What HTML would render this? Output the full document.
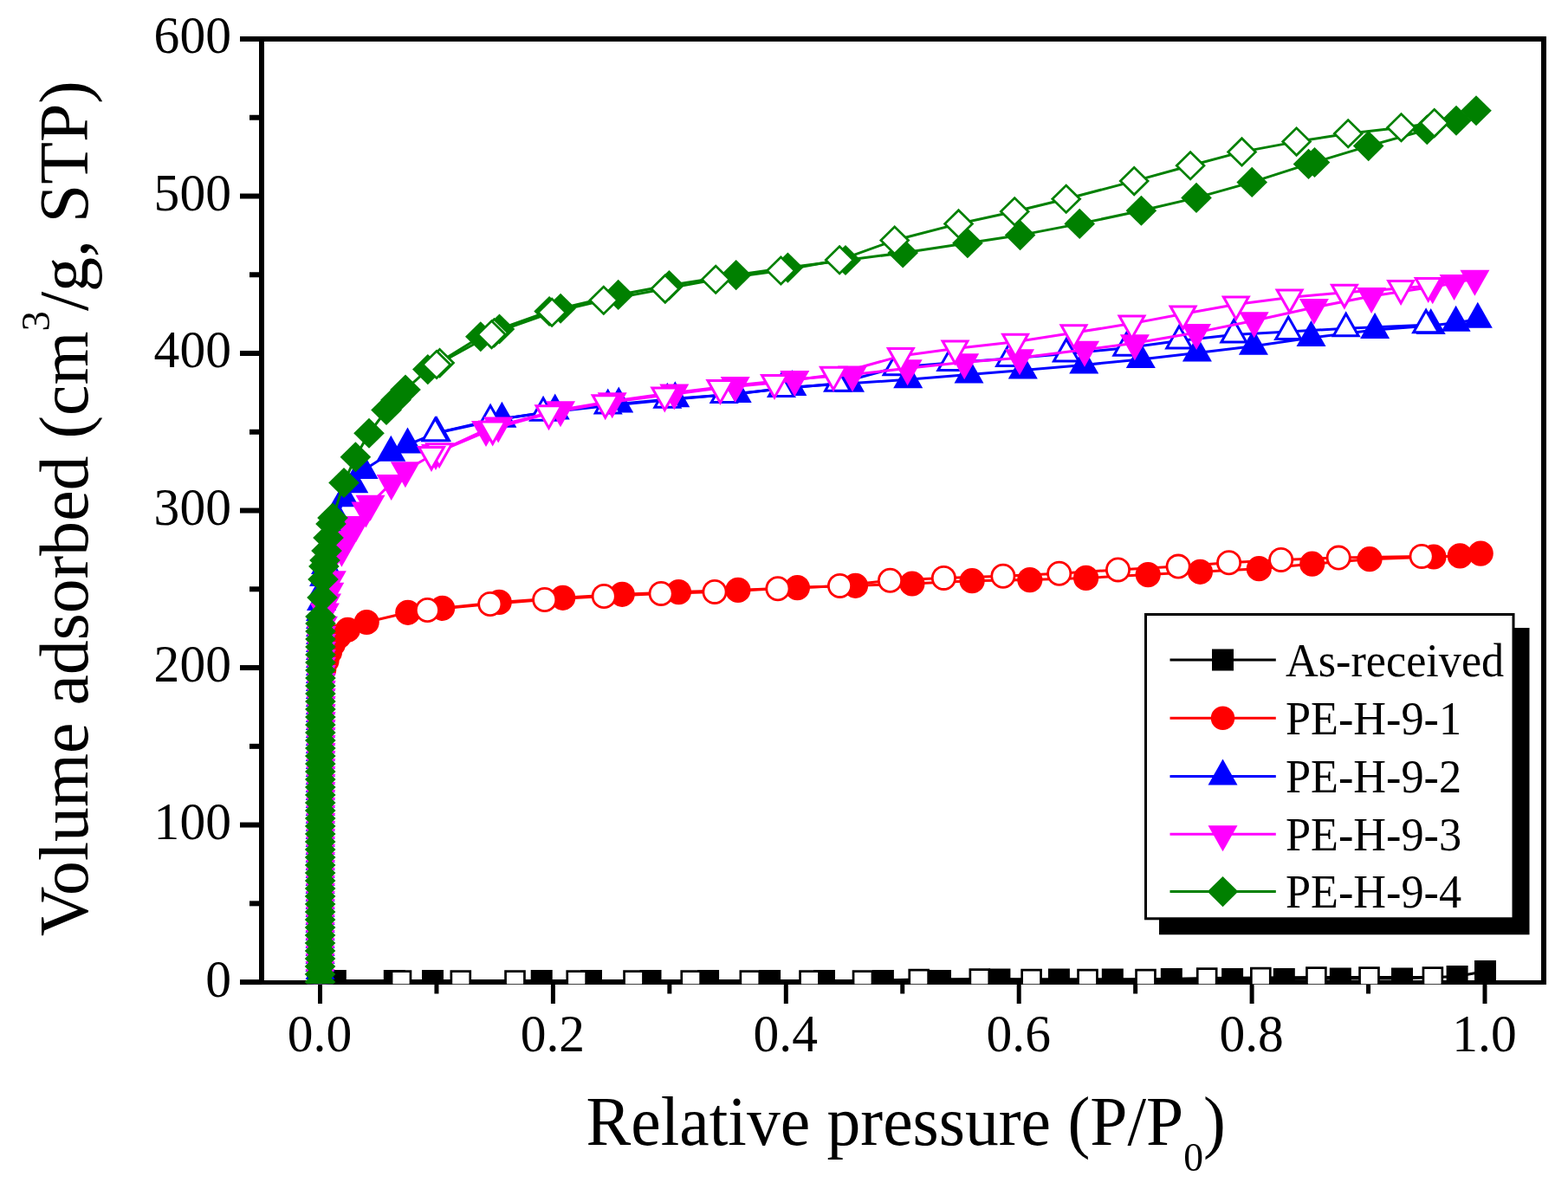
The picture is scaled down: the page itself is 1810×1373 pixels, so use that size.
<!DOCTYPE html>
<html><head><meta charset="utf-8"><title>Isotherm</title>
<style>html,body{margin:0;padding:0;background:#fff;width:1810px;height:1373px;overflow:hidden}svg{display:block}</style>
</head><body>
<svg width="1810" height="1373" viewBox="0 0 1810 1373" font-family="'Liberation Serif','Times New Roman',serif">
<rect width="1810" height="1373" fill="#fff"/>
<defs><clipPath id="pc"><rect x="305" y="48" width="1474" height="1088.2"/></clipPath></defs>
<g stroke="#000" stroke-width="5.6" stroke-linecap="butt">
<path d="M299 45H1785M1782 42V1137M302 42V1134.5" fill="none" stroke="#000" stroke-width="6"/>
<path d="M277 1134.5H1785" fill="none" stroke="#000" stroke-width="5.1"/>
<line x1="277" y1="1134.1" x2="302" y2="1134.1" stroke-width="6"/>
<line x1="288" y1="1043.34" x2="302" y2="1043.34" stroke-width="6"/>
<line x1="277" y1="952.58" x2="302" y2="952.58" stroke-width="6"/>
<line x1="288" y1="861.82" x2="302" y2="861.82" stroke-width="6"/>
<line x1="277" y1="771.06" x2="302" y2="771.06" stroke-width="6"/>
<line x1="288" y1="680.3" x2="302" y2="680.3" stroke-width="6"/>
<line x1="277" y1="589.54" x2="302" y2="589.54" stroke-width="6"/>
<line x1="288" y1="498.78" x2="302" y2="498.78" stroke-width="6"/>
<line x1="277" y1="408.02" x2="302" y2="408.02" stroke-width="6"/>
<line x1="288" y1="317.26" x2="302" y2="317.26" stroke-width="6"/>
<line x1="277" y1="226.5" x2="302" y2="226.5" stroke-width="6"/>
<line x1="288" y1="135.74" x2="302" y2="135.74" stroke-width="6"/>
<line x1="277" y1="44.98" x2="302" y2="44.98" stroke-width="6"/>
<line x1="369.5" y1="1134.5" x2="369.5" y2="1159" stroke-width="5"/>
<line x1="503.95" y1="1134.5" x2="503.95" y2="1147.5" stroke-width="5"/>
<line x1="638.4" y1="1134.5" x2="638.4" y2="1159" stroke-width="5"/>
<line x1="772.85" y1="1134.5" x2="772.85" y2="1147.5" stroke-width="5"/>
<line x1="907.3" y1="1134.5" x2="907.3" y2="1159" stroke-width="5"/>
<line x1="1041.75" y1="1134.5" x2="1041.75" y2="1147.5" stroke-width="5"/>
<line x1="1176.2" y1="1134.5" x2="1176.2" y2="1159" stroke-width="5"/>
<line x1="1310.65" y1="1134.5" x2="1310.65" y2="1147.5" stroke-width="5"/>
<line x1="1445.1" y1="1134.5" x2="1445.1" y2="1159" stroke-width="5"/>
<line x1="1579.55" y1="1134.5" x2="1579.55" y2="1147.5" stroke-width="5"/>
<line x1="1714" y1="1134.5" x2="1714" y2="1159" stroke-width="5"/>
</g>
<g clip-path="url(#pc)">
<polyline fill="none" stroke="#000000" stroke-width="3.0" stroke-linejoin="round" points="369.5,1133 387.3,1132.5 455.3,1132.5 499.5,1132.5 625.2,1132.5 682.5,1132.5 751,1132.5 817.6,1132.5 888.6,1132.5 951.5,1132.5 1019.4,1132.5 1085.5,1132.5 1153.9,1131 1222.4,1131 1284.3,1131 1352.3,1130.5 1422.6,1130.5 1482.3,1130.5 1547.3,1130 1618.5,1130 1682.1,1127.5 1714.5,1121.5"/>
<g fill="#000000"><path d="M357 1120.5L382 1120.5L382 1145.5L357 1145.5z"/><path d="M374.8 1120L399.8 1120L399.8 1145L374.8 1145z"/><path d="M442.8 1120L467.8 1120L467.8 1145L442.8 1145z"/><path d="M487 1120L512 1120L512 1145L487 1145z"/><path d="M612.7 1120L637.7 1120L637.7 1145L612.7 1145z"/><path d="M670 1120L695 1120L695 1145L670 1145z"/><path d="M738.5 1120L763.5 1120L763.5 1145L738.5 1145z"/><path d="M805.1 1120L830.1 1120L830.1 1145L805.1 1145z"/><path d="M876.1 1120L901.1 1120L901.1 1145L876.1 1145z"/><path d="M939 1120L964 1120L964 1145L939 1145z"/><path d="M1006.9 1120L1031.9 1120L1031.9 1145L1006.9 1145z"/><path d="M1073 1120L1098 1120L1098 1145L1073 1145z"/><path d="M1141.4 1118.5L1166.4 1118.5L1166.4 1143.5L1141.4 1143.5z"/><path d="M1209.9 1118.5L1234.9 1118.5L1234.9 1143.5L1209.9 1143.5z"/><path d="M1271.8 1118.5L1296.8 1118.5L1296.8 1143.5L1271.8 1143.5z"/><path d="M1339.8 1118L1364.8 1118L1364.8 1143L1339.8 1143z"/><path d="M1410.1 1118L1435.1 1118L1435.1 1143L1410.1 1143z"/><path d="M1469.8 1118L1494.8 1118L1494.8 1143L1469.8 1143z"/><path d="M1534.8 1117.5L1559.8 1117.5L1559.8 1142.5L1534.8 1142.5z"/><path d="M1606 1117.5L1631 1117.5L1631 1142.5L1606 1142.5z"/><path d="M1669.6 1115L1694.6 1115L1694.6 1140L1669.6 1140z"/><path d="M1702 1109L1727 1109L1727 1134L1702 1134z"/></g>
<polyline fill="none" stroke="#000000" stroke-width="3.0" stroke-linejoin="round" points="1653.9,1128.5 1580.5,1128.5 1519.4,1128.5 1455.3,1129 1393.2,1129.5 1322.5,1131 1255.5,1131 1190.6,1131 1130.8,1130.5 1060.7,1131 996,1132.5 934.5,1132.5 865.8,1132.5 797.7,1132.5 731.5,1132.5 665.7,1132.5 594.5,1132.5 531.8,1132.5 463,1132.5"/>
<g fill="#000000"><path fill="#000000" d="M1641.6 1116.2L1666.2 1116.2L1666.2 1140.8L1641.6 1140.8z"/><path fill="#fff" d="M1644.3 1118.9L1663.5 1118.9L1663.5 1138.1L1644.3 1138.1z"/><path fill="#000000" d="M1568.2 1116.2L1592.8 1116.2L1592.8 1140.8L1568.2 1140.8z"/><path fill="#fff" d="M1570.9 1118.9L1590.1 1118.9L1590.1 1138.1L1570.9 1138.1z"/><path fill="#000000" d="M1507.1 1116.2L1531.7 1116.2L1531.7 1140.8L1507.1 1140.8z"/><path fill="#fff" d="M1509.8 1118.9L1529 1118.9L1529 1138.1L1509.8 1138.1z"/><path fill="#000000" d="M1443 1116.7L1467.6 1116.7L1467.6 1141.3L1443 1141.3z"/><path fill="#fff" d="M1445.7 1119.4L1464.9 1119.4L1464.9 1138.6L1445.7 1138.6z"/><path fill="#000000" d="M1380.9 1117.2L1405.5 1117.2L1405.5 1141.8L1380.9 1141.8z"/><path fill="#fff" d="M1383.6 1119.9L1402.8 1119.9L1402.8 1139.1L1383.6 1139.1z"/><path fill="#000000" d="M1310.2 1118.7L1334.8 1118.7L1334.8 1143.3L1310.2 1143.3z"/><path fill="#fff" d="M1312.9 1121.4L1332.1 1121.4L1332.1 1140.6L1312.9 1140.6z"/><path fill="#000000" d="M1243.2 1118.7L1267.8 1118.7L1267.8 1143.3L1243.2 1143.3z"/><path fill="#fff" d="M1245.9 1121.4L1265.1 1121.4L1265.1 1140.6L1245.9 1140.6z"/><path fill="#000000" d="M1178.3 1118.7L1202.9 1118.7L1202.9 1143.3L1178.3 1143.3z"/><path fill="#fff" d="M1181 1121.4L1200.2 1121.4L1200.2 1140.6L1181 1140.6z"/><path fill="#000000" d="M1118.5 1118.2L1143.1 1118.2L1143.1 1142.8L1118.5 1142.8z"/><path fill="#fff" d="M1121.2 1120.9L1140.4 1120.9L1140.4 1140.1L1121.2 1140.1z"/><path fill="#000000" d="M1048.4 1118.7L1073 1118.7L1073 1143.3L1048.4 1143.3z"/><path fill="#fff" d="M1051.1 1121.4L1070.3 1121.4L1070.3 1140.6L1051.1 1140.6z"/><path fill="#000000" d="M983.7 1120.2L1008.3 1120.2L1008.3 1144.8L983.7 1144.8z"/><path fill="#fff" d="M986.4 1122.9L1005.6 1122.9L1005.6 1142.1L986.4 1142.1z"/><path fill="#000000" d="M922.2 1120.2L946.8 1120.2L946.8 1144.8L922.2 1144.8z"/><path fill="#fff" d="M924.9 1122.9L944.1 1122.9L944.1 1142.1L924.9 1142.1z"/><path fill="#000000" d="M853.5 1120.2L878.1 1120.2L878.1 1144.8L853.5 1144.8z"/><path fill="#fff" d="M856.2 1122.9L875.4 1122.9L875.4 1142.1L856.2 1142.1z"/><path fill="#000000" d="M785.4 1120.2L810 1120.2L810 1144.8L785.4 1144.8z"/><path fill="#fff" d="M788.1 1122.9L807.3 1122.9L807.3 1142.1L788.1 1142.1z"/><path fill="#000000" d="M719.2 1120.2L743.8 1120.2L743.8 1144.8L719.2 1144.8z"/><path fill="#fff" d="M721.9 1122.9L741.1 1122.9L741.1 1142.1L721.9 1142.1z"/><path fill="#000000" d="M653.4 1120.2L678 1120.2L678 1144.8L653.4 1144.8z"/><path fill="#fff" d="M656.1 1122.9L675.3 1122.9L675.3 1142.1L656.1 1142.1z"/><path fill="#000000" d="M582.2 1120.2L606.8 1120.2L606.8 1144.8L582.2 1144.8z"/><path fill="#fff" d="M584.9 1122.9L604.1 1122.9L604.1 1142.1L584.9 1142.1z"/><path fill="#000000" d="M519.5 1120.2L544.1 1120.2L544.1 1144.8L519.5 1144.8z"/><path fill="#fff" d="M522.2 1122.9L541.4 1122.9L541.4 1142.1L522.2 1142.1z"/><path fill="#000000" d="M450.7 1120.2L475.3 1120.2L475.3 1144.8L450.7 1144.8z"/><path fill="#fff" d="M453.4 1122.9L472.6 1122.9L472.6 1142.1L453.4 1142.1z"/></g>
<polyline fill="none" stroke="#FF0000" stroke-width="3.0" stroke-linejoin="round" points="369.5,1134 369.51,1125 369.53,1116 369.54,1107 369.55,1098 369.57,1089 369.58,1080 369.59,1071 369.6,1062 369.62,1053 369.63,1044 369.64,1035 369.66,1026 369.67,1017 369.68,1008 369.7,999 369.71,990 369.72,981 369.74,972 369.75,963 369.76,954 369.77,945 369.79,936 369.8,927 369.81,918 369.83,909 369.84,900 369.85,891 369.87,882 369.88,873 369.89,864 369.91,855 369.92,846 369.93,837 369.94,828 369.96,819 369.97,810 369.98,801 370,792 371,782 373.7,773 377,763 380.5,753 384.3,744 391,735 401.4,727.3 423.2,718.5 470.8,707.3 510.6,702.3 576.2,695.4 649.7,690.3 718.2,686.3 783.4,683.6 851.9,681.4 920.4,678.6 987.5,676.3 1052.9,674 1122.1,670.7 1188.8,669.6 1253.6,667.4 1325.2,663.6 1385.4,660.3 1453.3,656.7 1514.7,651.2 1581,645.7 1655,643 1685.3,641.9 1709.2,639.1"/>
<g fill="#FF0000"><circle cx="369.5" cy="1134" r="14.6"/><circle cx="369.51" cy="1125" r="14.6"/><circle cx="369.53" cy="1116" r="14.6"/><circle cx="369.54" cy="1107" r="14.6"/><circle cx="369.55" cy="1098" r="14.6"/><circle cx="369.57" cy="1089" r="14.6"/><circle cx="369.58" cy="1080" r="14.6"/><circle cx="369.59" cy="1071" r="14.6"/><circle cx="369.6" cy="1062" r="14.6"/><circle cx="369.62" cy="1053" r="14.6"/><circle cx="369.63" cy="1044" r="14.6"/><circle cx="369.64" cy="1035" r="14.6"/><circle cx="369.66" cy="1026" r="14.6"/><circle cx="369.67" cy="1017" r="14.6"/><circle cx="369.68" cy="1008" r="14.6"/><circle cx="369.7" cy="999" r="14.6"/><circle cx="369.71" cy="990" r="14.6"/><circle cx="369.72" cy="981" r="14.6"/><circle cx="369.74" cy="972" r="14.6"/><circle cx="369.75" cy="963" r="14.6"/><circle cx="369.76" cy="954" r="14.6"/><circle cx="369.77" cy="945" r="14.6"/><circle cx="369.79" cy="936" r="14.6"/><circle cx="369.8" cy="927" r="14.6"/><circle cx="369.81" cy="918" r="14.6"/><circle cx="369.83" cy="909" r="14.6"/><circle cx="369.84" cy="900" r="14.6"/><circle cx="369.85" cy="891" r="14.6"/><circle cx="369.87" cy="882" r="14.6"/><circle cx="369.88" cy="873" r="14.6"/><circle cx="369.89" cy="864" r="14.6"/><circle cx="369.91" cy="855" r="14.6"/><circle cx="369.92" cy="846" r="14.6"/><circle cx="369.93" cy="837" r="14.6"/><circle cx="369.94" cy="828" r="14.6"/><circle cx="369.96" cy="819" r="14.6"/><circle cx="369.97" cy="810" r="14.6"/><circle cx="369.98" cy="801" r="14.6"/><circle cx="370" cy="792" r="14.6"/><circle cx="371" cy="782" r="14.6"/><circle cx="373.7" cy="773" r="14.6"/><circle cx="377" cy="763" r="14.6"/><circle cx="380.5" cy="753" r="14.6"/><circle cx="384.3" cy="744" r="14.6"/><circle cx="391" cy="735" r="14.6"/><circle cx="401.4" cy="727.3" r="14.6"/><circle cx="423.2" cy="718.5" r="14.6"/><circle cx="470.8" cy="707.3" r="14.6"/><circle cx="510.6" cy="702.3" r="14.6"/><circle cx="576.2" cy="695.4" r="14.6"/><circle cx="649.7" cy="690.3" r="14.6"/><circle cx="718.2" cy="686.3" r="14.6"/><circle cx="783.4" cy="683.6" r="14.6"/><circle cx="851.9" cy="681.4" r="14.6"/><circle cx="920.4" cy="678.6" r="14.6"/><circle cx="987.5" cy="676.3" r="14.6"/><circle cx="1052.9" cy="674" r="14.6"/><circle cx="1122.1" cy="670.7" r="14.6"/><circle cx="1188.8" cy="669.6" r="14.6"/><circle cx="1253.6" cy="667.4" r="14.6"/><circle cx="1325.2" cy="663.6" r="14.6"/><circle cx="1385.4" cy="660.3" r="14.6"/><circle cx="1453.3" cy="656.7" r="14.6"/><circle cx="1514.7" cy="651.2" r="14.6"/><circle cx="1581" cy="645.7" r="14.6"/><circle cx="1655" cy="643" r="14.6"/><circle cx="1685.3" cy="641.9" r="14.6"/><circle cx="1709.2" cy="639.1" r="14.6"/></g>
<polyline fill="none" stroke="#FF0000" stroke-width="3.0" stroke-linejoin="round" points="1641.1,642.4 1545.2,644.1 1478.7,646.4 1418.6,649.7 1360.1,654.1 1290.5,657.9 1222.7,662.3 1157.9,665.2 1089.4,667.4 1027.5,670.3 969.5,676.4 897.9,679.7 825,683.4 763.1,685.4 697.2,688.5 628.7,692.5 565.8,697.5 493.4,704.5"/>
<g fill="#FF0000"><circle cx="1641.1" cy="642.4" r="14.5" fill="#FF0000"/><circle cx="1641.1" cy="642.4" r="11.7" fill="#fff"/><circle cx="1545.2" cy="644.1" r="14.5" fill="#FF0000"/><circle cx="1545.2" cy="644.1" r="11.7" fill="#fff"/><circle cx="1478.7" cy="646.4" r="14.5" fill="#FF0000"/><circle cx="1478.7" cy="646.4" r="11.7" fill="#fff"/><circle cx="1418.6" cy="649.7" r="14.5" fill="#FF0000"/><circle cx="1418.6" cy="649.7" r="11.7" fill="#fff"/><circle cx="1360.1" cy="654.1" r="14.5" fill="#FF0000"/><circle cx="1360.1" cy="654.1" r="11.7" fill="#fff"/><circle cx="1290.5" cy="657.9" r="14.5" fill="#FF0000"/><circle cx="1290.5" cy="657.9" r="11.7" fill="#fff"/><circle cx="1222.7" cy="662.3" r="14.5" fill="#FF0000"/><circle cx="1222.7" cy="662.3" r="11.7" fill="#fff"/><circle cx="1157.9" cy="665.2" r="14.5" fill="#FF0000"/><circle cx="1157.9" cy="665.2" r="11.7" fill="#fff"/><circle cx="1089.4" cy="667.4" r="14.5" fill="#FF0000"/><circle cx="1089.4" cy="667.4" r="11.7" fill="#fff"/><circle cx="1027.5" cy="670.3" r="14.5" fill="#FF0000"/><circle cx="1027.5" cy="670.3" r="11.7" fill="#fff"/><circle cx="969.5" cy="676.4" r="14.5" fill="#FF0000"/><circle cx="969.5" cy="676.4" r="11.7" fill="#fff"/><circle cx="897.9" cy="679.7" r="14.5" fill="#FF0000"/><circle cx="897.9" cy="679.7" r="11.7" fill="#fff"/><circle cx="825" cy="683.4" r="14.5" fill="#FF0000"/><circle cx="825" cy="683.4" r="11.7" fill="#fff"/><circle cx="763.1" cy="685.4" r="14.5" fill="#FF0000"/><circle cx="763.1" cy="685.4" r="11.7" fill="#fff"/><circle cx="697.2" cy="688.5" r="14.5" fill="#FF0000"/><circle cx="697.2" cy="688.5" r="11.7" fill="#fff"/><circle cx="628.7" cy="692.5" r="14.5" fill="#FF0000"/><circle cx="628.7" cy="692.5" r="11.7" fill="#fff"/><circle cx="565.8" cy="697.5" r="14.5" fill="#FF0000"/><circle cx="565.8" cy="697.5" r="11.7" fill="#fff"/><circle cx="493.4" cy="704.5" r="14.5" fill="#FF0000"/><circle cx="493.4" cy="704.5" r="11.7" fill="#fff"/></g>
<polyline fill="none" stroke="#0000FF" stroke-width="3.0" stroke-linejoin="round" points="369.5,1139 369.51,1130 369.52,1121 369.53,1112 369.54,1103 369.55,1094 369.56,1085 369.57,1076 369.58,1067 369.59,1058 369.6,1049 369.61,1040 369.62,1031 369.63,1022 369.65,1013 369.66,1004 369.67,995 369.68,986 369.69,977 369.7,968 369.71,959 369.72,950 369.73,941 369.74,932 369.75,923 369.76,914 369.77,905 369.78,896 369.79,887 369.8,878 369.81,869 369.82,860 369.83,851 369.84,842 369.85,833 369.86,824 369.87,815 369.88,806 369.89,797 369.9,788 369.91,779 369.93,770 369.94,761 369.95,752 369.96,743 369.97,734 369.98,725 369.99,716 370,707 371,695 372.5,681 374,667 376,653 378.5,639 381.5,625 385,611 388.5,597 397.6,575.3 408.3,559.3 419.6,543.1 451.3,522.8 470.5,513.6 504,500 579.4,483.7 640.7,474.5 714.2,466.6 779.3,460.2 850.7,454.9 914.3,447.1 981,442.8 1048.2,438.2 1118.5,432.4 1180.8,427.5 1251.2,421.4 1316.8,415 1381.9,407.6 1446.9,399.8 1513.5,390 1587.1,381.1 1651.7,376.1 1680.6,372.7 1705.8,368.7"/>
<g fill="#0000FF"><path d="M369.5 1119L386.5 1149L352.5 1149z"/><path d="M369.51 1110L386.51 1140L352.51 1140z"/><path d="M369.52 1101L386.52 1131L352.52 1131z"/><path d="M369.53 1092L386.53 1122L352.53 1122z"/><path d="M369.54 1083L386.54 1113L352.54 1113z"/><path d="M369.55 1074L386.55 1104L352.55 1104z"/><path d="M369.56 1065L386.56 1095L352.56 1095z"/><path d="M369.57 1056L386.57 1086L352.57 1086z"/><path d="M369.58 1047L386.58 1077L352.58 1077z"/><path d="M369.59 1038L386.59 1068L352.59 1068z"/><path d="M369.6 1029L386.6 1059L352.6 1059z"/><path d="M369.61 1020L386.61 1050L352.61 1050z"/><path d="M369.62 1011L386.62 1041L352.62 1041z"/><path d="M369.63 1002L386.63 1032L352.63 1032z"/><path d="M369.65 993L386.65 1023L352.65 1023z"/><path d="M369.66 984L386.66 1014L352.66 1014z"/><path d="M369.67 975L386.67 1005L352.67 1005z"/><path d="M369.68 966L386.68 996L352.68 996z"/><path d="M369.69 957L386.69 987L352.69 987z"/><path d="M369.7 948L386.7 978L352.7 978z"/><path d="M369.71 939L386.71 969L352.71 969z"/><path d="M369.72 930L386.72 960L352.72 960z"/><path d="M369.73 921L386.73 951L352.73 951z"/><path d="M369.74 912L386.74 942L352.74 942z"/><path d="M369.75 903L386.75 933L352.75 933z"/><path d="M369.76 894L386.76 924L352.76 924z"/><path d="M369.77 885L386.77 915L352.77 915z"/><path d="M369.78 876L386.78 906L352.78 906z"/><path d="M369.79 867L386.79 897L352.79 897z"/><path d="M369.8 858L386.8 888L352.8 888z"/><path d="M369.81 849L386.81 879L352.81 879z"/><path d="M369.82 840L386.82 870L352.82 870z"/><path d="M369.83 831L386.83 861L352.83 861z"/><path d="M369.84 822L386.84 852L352.84 852z"/><path d="M369.85 813L386.85 843L352.85 843z"/><path d="M369.86 804L386.86 834L352.86 834z"/><path d="M369.87 795L386.87 825L352.87 825z"/><path d="M369.88 786L386.88 816L352.88 816z"/><path d="M369.89 777L386.89 807L352.89 807z"/><path d="M369.9 768L386.9 798L352.9 798z"/><path d="M369.91 759L386.91 789L352.91 789z"/><path d="M369.93 750L386.93 780L352.93 780z"/><path d="M369.94 741L386.94 771L352.94 771z"/><path d="M369.95 732L386.95 762L352.95 762z"/><path d="M369.96 723L386.96 753L352.96 753z"/><path d="M369.97 714L386.97 744L352.97 744z"/><path d="M369.98 705L386.98 735L352.98 735z"/><path d="M369.99 696L386.99 726L352.99 726z"/><path d="M370 687L387 717L353 717z"/><path d="M371 675L388 705L354 705z"/><path d="M372.5 661L389.5 691L355.5 691z"/><path d="M374 647L391 677L357 677z"/><path d="M376 633L393 663L359 663z"/><path d="M378.5 619L395.5 649L361.5 649z"/><path d="M381.5 605L398.5 635L364.5 635z"/><path d="M385 591L402 621L368 621z"/><path d="M388.5 577L405.5 607L371.5 607z"/><path d="M397.6 555.3L414.6 585.3L380.6 585.3z"/><path d="M408.3 539.3L425.3 569.3L391.3 569.3z"/><path d="M419.6 523.1L436.6 553.1L402.6 553.1z"/><path d="M451.3 502.8L468.3 532.8L434.3 532.8z"/><path d="M470.5 493.6L487.5 523.6L453.5 523.6z"/><path d="M504 480L521 510L487 510z"/><path d="M579.4 463.7L596.4 493.7L562.4 493.7z"/><path d="M640.7 454.5L657.7 484.5L623.7 484.5z"/><path d="M714.2 446.6L731.2 476.6L697.2 476.6z"/><path d="M779.3 440.2L796.3 470.2L762.3 470.2z"/><path d="M850.7 434.9L867.7 464.9L833.7 464.9z"/><path d="M914.3 427.1L931.3 457.1L897.3 457.1z"/><path d="M981 422.8L998 452.8L964 452.8z"/><path d="M1048.2 418.2L1065.2 448.2L1031.2 448.2z"/><path d="M1118.5 412.4L1135.5 442.4L1101.5 442.4z"/><path d="M1180.8 407.5L1197.8 437.5L1163.8 437.5z"/><path d="M1251.2 401.4L1268.2 431.4L1234.2 431.4z"/><path d="M1316.8 395L1333.8 425L1299.8 425z"/><path d="M1381.9 387.6L1398.9 417.6L1364.9 417.6z"/><path d="M1446.9 379.8L1463.9 409.8L1429.9 409.8z"/><path d="M1513.5 370L1530.5 400L1496.5 400z"/><path d="M1587.1 361.1L1604.1 391.1L1570.1 391.1z"/><path d="M1651.7 356.1L1668.7 386.1L1634.7 386.1z"/><path d="M1680.6 352.7L1697.6 382.7L1663.6 382.7z"/><path d="M1705.8 348.7L1722.8 378.7L1688.8 378.7z"/></g>
<polyline fill="none" stroke="#0000FF" stroke-width="3.0" stroke-linejoin="round" points="1646.1,375.3 1553.7,379.3 1487.2,382.9 1424.3,386.5 1361.2,393.5 1300.3,401.7 1230.9,408.6 1165.1,414 1097.3,418.9 1034.6,424.3 967,442.8 902,449.1 835.7,455.9 770.3,461.8 701.7,468.6 627.1,476.7 566.1,485.4 502.4,500.3"/>
<g fill="#0000FF"><path fill="#0000FF" d="M1646.1 355.3L1663.1 385.3L1629.1 385.3z"/><path fill="#fff" d="M1646.1 361.39L1657.95 382.3L1634.25 382.3z"/><path fill="#0000FF" d="M1553.7 359.3L1570.7 389.3L1536.7 389.3z"/><path fill="#fff" d="M1553.7 365.39L1565.55 386.3L1541.85 386.3z"/><path fill="#0000FF" d="M1487.2 362.9L1504.2 392.9L1470.2 392.9z"/><path fill="#fff" d="M1487.2 368.99L1499.05 389.9L1475.35 389.9z"/><path fill="#0000FF" d="M1424.3 366.5L1441.3 396.5L1407.3 396.5z"/><path fill="#fff" d="M1424.3 372.59L1436.15 393.5L1412.45 393.5z"/><path fill="#0000FF" d="M1361.2 373.5L1378.2 403.5L1344.2 403.5z"/><path fill="#fff" d="M1361.2 379.59L1373.05 400.5L1349.35 400.5z"/><path fill="#0000FF" d="M1300.3 381.7L1317.3 411.7L1283.3 411.7z"/><path fill="#fff" d="M1300.3 387.79L1312.15 408.7L1288.45 408.7z"/><path fill="#0000FF" d="M1230.9 388.6L1247.9 418.6L1213.9 418.6z"/><path fill="#fff" d="M1230.9 394.69L1242.75 415.6L1219.05 415.6z"/><path fill="#0000FF" d="M1165.1 394L1182.1 424L1148.1 424z"/><path fill="#fff" d="M1165.1 400.09L1176.95 421L1153.25 421z"/><path fill="#0000FF" d="M1097.3 398.9L1114.3 428.9L1080.3 428.9z"/><path fill="#fff" d="M1097.3 404.99L1109.15 425.9L1085.45 425.9z"/><path fill="#0000FF" d="M1034.6 404.3L1051.6 434.3L1017.6 434.3z"/><path fill="#fff" d="M1034.6 410.39L1046.45 431.3L1022.75 431.3z"/><path fill="#0000FF" d="M967 422.8L984 452.8L950 452.8z"/><path fill="#fff" d="M967 428.89L978.85 449.8L955.15 449.8z"/><path fill="#0000FF" d="M902 429.1L919 459.1L885 459.1z"/><path fill="#fff" d="M902 435.19L913.85 456.1L890.15 456.1z"/><path fill="#0000FF" d="M835.7 435.9L852.7 465.9L818.7 465.9z"/><path fill="#fff" d="M835.7 441.99L847.55 462.9L823.85 462.9z"/><path fill="#0000FF" d="M770.3 441.8L787.3 471.8L753.3 471.8z"/><path fill="#fff" d="M770.3 447.89L782.15 468.8L758.45 468.8z"/><path fill="#0000FF" d="M701.7 448.6L718.7 478.6L684.7 478.6z"/><path fill="#fff" d="M701.7 454.69L713.55 475.6L689.85 475.6z"/><path fill="#0000FF" d="M627.1 456.7L644.1 486.7L610.1 486.7z"/><path fill="#fff" d="M627.1 462.79L638.95 483.7L615.25 483.7z"/><path fill="#0000FF" d="M566.1 465.4L583.1 495.4L549.1 495.4z"/><path fill="#fff" d="M566.1 471.49L577.95 492.4L554.25 492.4z"/><path fill="#0000FF" d="M502.4 480.3L519.4 510.3L485.4 510.3z"/><path fill="#fff" d="M502.4 486.39L514.25 507.3L490.55 507.3z"/></g>
<polyline fill="none" stroke="#FF00FF" stroke-width="3.0" stroke-linejoin="round" points="369.5,1129 369.53,1120 369.57,1111 369.6,1102 369.64,1093 369.67,1084 369.7,1075 369.74,1066 369.77,1057 369.8,1048 369.84,1039 369.87,1030 369.91,1021 369.94,1012 369.97,1003 370.01,994 370.04,985 370.08,976 370.11,967 370.14,958 370.18,949 370.21,940 370.24,931 370.28,922 370.31,913 370.35,904 370.38,895 370.41,886 370.45,877 370.48,868 370.52,859 370.55,850 370.58,841 370.62,832 370.65,823 370.68,814 370.72,805 370.75,796 370.79,787 370.82,778 370.85,769 370.89,760 370.92,751 370.95,742 370.99,733 372.9,721.7 374.9,706.6 377,695.5 380.3,682.7 382.8,669.3 394.4,634.8 400,623 405,613 411,606 422.4,589.5 427.5,581.8 451.7,557.9 467.9,543.3 503,523 561,496.1 575.2,491.4 647,473.3 706.7,463.3 778.3,453.4 848.7,445.1 917.3,438.1 984,432.6 1047.6,425.2 1113.2,418.2 1177,413.3 1252,403.8 1309.9,396.2 1381.1,383.9 1447.7,370.2 1516.9,355 1583.1,342 1653.7,331.3 1678.6,326.9 1702.4,321.7"/>
<g fill="#FF00FF"><path d="M369.5 1149L386.5 1119L352.5 1119z"/><path d="M369.53 1140L386.53 1110L352.53 1110z"/><path d="M369.57 1131L386.57 1101L352.57 1101z"/><path d="M369.6 1122L386.6 1092L352.6 1092z"/><path d="M369.64 1113L386.64 1083L352.64 1083z"/><path d="M369.67 1104L386.67 1074L352.67 1074z"/><path d="M369.7 1095L386.7 1065L352.7 1065z"/><path d="M369.74 1086L386.74 1056L352.74 1056z"/><path d="M369.77 1077L386.77 1047L352.77 1047z"/><path d="M369.8 1068L386.8 1038L352.8 1038z"/><path d="M369.84 1059L386.84 1029L352.84 1029z"/><path d="M369.87 1050L386.87 1020L352.87 1020z"/><path d="M369.91 1041L386.91 1011L352.91 1011z"/><path d="M369.94 1032L386.94 1002L352.94 1002z"/><path d="M369.97 1023L386.97 993L352.97 993z"/><path d="M370.01 1014L387.01 984L353.01 984z"/><path d="M370.04 1005L387.04 975L353.04 975z"/><path d="M370.08 996L387.08 966L353.08 966z"/><path d="M370.11 987L387.11 957L353.11 957z"/><path d="M370.14 978L387.14 948L353.14 948z"/><path d="M370.18 969L387.18 939L353.18 939z"/><path d="M370.21 960L387.21 930L353.21 930z"/><path d="M370.24 951L387.24 921L353.24 921z"/><path d="M370.28 942L387.28 912L353.28 912z"/><path d="M370.31 933L387.31 903L353.31 903z"/><path d="M370.35 924L387.35 894L353.35 894z"/><path d="M370.38 915L387.38 885L353.38 885z"/><path d="M370.41 906L387.41 876L353.41 876z"/><path d="M370.45 897L387.45 867L353.45 867z"/><path d="M370.48 888L387.48 858L353.48 858z"/><path d="M370.52 879L387.52 849L353.52 849z"/><path d="M370.55 870L387.55 840L353.55 840z"/><path d="M370.58 861L387.58 831L353.58 831z"/><path d="M370.62 852L387.62 822L353.62 822z"/><path d="M370.65 843L387.65 813L353.65 813z"/><path d="M370.68 834L387.68 804L353.68 804z"/><path d="M370.72 825L387.72 795L353.72 795z"/><path d="M370.75 816L387.75 786L353.75 786z"/><path d="M370.79 807L387.79 777L353.79 777z"/><path d="M370.82 798L387.82 768L353.82 768z"/><path d="M370.85 789L387.85 759L353.85 759z"/><path d="M370.89 780L387.89 750L353.89 750z"/><path d="M370.92 771L387.92 741L353.92 741z"/><path d="M370.95 762L387.95 732L353.95 732z"/><path d="M370.99 753L387.99 723L353.99 723z"/><path d="M372.9 741.7L389.9 711.7L355.9 711.7z"/><path d="M374.9 726.6L391.9 696.6L357.9 696.6z"/><path d="M377 715.5L394 685.5L360 685.5z"/><path d="M380.3 702.7L397.3 672.7L363.3 672.7z"/><path d="M382.8 689.3L399.8 659.3L365.8 659.3z"/><path d="M394.4 654.8L411.4 624.8L377.4 624.8z"/><path d="M400 643L417 613L383 613z"/><path d="M405 633L422 603L388 603z"/><path d="M411 626L428 596L394 596z"/><path d="M422.4 609.5L439.4 579.5L405.4 579.5z"/><path d="M427.5 601.8L444.5 571.8L410.5 571.8z"/><path d="M451.7 577.9L468.7 547.9L434.7 547.9z"/><path d="M467.9 563.3L484.9 533.3L450.9 533.3z"/><path d="M503 543L520 513L486 513z"/><path d="M561 516.1L578 486.1L544 486.1z"/><path d="M575.2 511.4L592.2 481.4L558.2 481.4z"/><path d="M647 493.3L664 463.3L630 463.3z"/><path d="M706.7 483.3L723.7 453.3L689.7 453.3z"/><path d="M778.3 473.4L795.3 443.4L761.3 443.4z"/><path d="M848.7 465.1L865.7 435.1L831.7 435.1z"/><path d="M917.3 458.1L934.3 428.1L900.3 428.1z"/><path d="M984 452.6L1001 422.6L967 422.6z"/><path d="M1047.6 445.2L1064.6 415.2L1030.6 415.2z"/><path d="M1113.2 438.2L1130.2 408.2L1096.2 408.2z"/><path d="M1177 433.3L1194 403.3L1160 403.3z"/><path d="M1252 423.8L1269 393.8L1235 393.8z"/><path d="M1309.9 416.2L1326.9 386.2L1292.9 386.2z"/><path d="M1381.1 403.9L1398.1 373.9L1364.1 373.9z"/><path d="M1447.7 390.2L1464.7 360.2L1430.7 360.2z"/><path d="M1516.9 375L1533.9 345L1499.9 345z"/><path d="M1583.1 362L1600.1 332L1566.1 332z"/><path d="M1653.7 351.3L1670.7 321.3L1636.7 321.3z"/><path d="M1678.6 346.9L1695.6 316.9L1661.6 316.9z"/><path d="M1702.4 341.7L1719.4 311.7L1685.4 311.7z"/></g>
<polyline fill="none" stroke="#FF00FF" stroke-width="3.0" stroke-linejoin="round" points="1648.7,330.1 1617.1,333.1 1551.9,337.7 1488.6,343.4 1426.8,351.5 1365.6,362.4 1306.5,373.6 1239.5,384.3 1172.1,394.8 1102.5,402.5 1039.8,411.1 962,432.8 894,442.1 831.4,448.1 767.3,456.4 698.7,465.3 633.5,477.3 568.7,495.4 507.1,521.3 498,524.9"/>
<g fill="#FF00FF"><path fill="#FF00FF" d="M1648.7 350.1L1665.7 320.1L1631.7 320.1z"/><path fill="#fff" d="M1648.7 344.01L1660.55 323.1L1636.85 323.1z"/><path fill="#FF00FF" d="M1617.1 353.1L1634.1 323.1L1600.1 323.1z"/><path fill="#fff" d="M1617.1 347.01L1628.95 326.1L1605.25 326.1z"/><path fill="#FF00FF" d="M1551.9 357.7L1568.9 327.7L1534.9 327.7z"/><path fill="#fff" d="M1551.9 351.61L1563.75 330.7L1540.05 330.7z"/><path fill="#FF00FF" d="M1488.6 363.4L1505.6 333.4L1471.6 333.4z"/><path fill="#fff" d="M1488.6 357.31L1500.45 336.4L1476.75 336.4z"/><path fill="#FF00FF" d="M1426.8 371.5L1443.8 341.5L1409.8 341.5z"/><path fill="#fff" d="M1426.8 365.41L1438.65 344.5L1414.95 344.5z"/><path fill="#FF00FF" d="M1365.6 382.4L1382.6 352.4L1348.6 352.4z"/><path fill="#fff" d="M1365.6 376.31L1377.45 355.4L1353.75 355.4z"/><path fill="#FF00FF" d="M1306.5 393.6L1323.5 363.6L1289.5 363.6z"/><path fill="#fff" d="M1306.5 387.51L1318.35 366.6L1294.65 366.6z"/><path fill="#FF00FF" d="M1239.5 404.3L1256.5 374.3L1222.5 374.3z"/><path fill="#fff" d="M1239.5 398.21L1251.35 377.3L1227.65 377.3z"/><path fill="#FF00FF" d="M1172.1 414.8L1189.1 384.8L1155.1 384.8z"/><path fill="#fff" d="M1172.1 408.71L1183.95 387.8L1160.25 387.8z"/><path fill="#FF00FF" d="M1102.5 422.5L1119.5 392.5L1085.5 392.5z"/><path fill="#fff" d="M1102.5 416.41L1114.35 395.5L1090.65 395.5z"/><path fill="#FF00FF" d="M1039.8 431.1L1056.8 401.1L1022.8 401.1z"/><path fill="#fff" d="M1039.8 425.01L1051.65 404.1L1027.95 404.1z"/><path fill="#FF00FF" d="M962 452.8L979 422.8L945 422.8z"/><path fill="#fff" d="M962 446.71L973.85 425.8L950.15 425.8z"/><path fill="#FF00FF" d="M894 462.1L911 432.1L877 432.1z"/><path fill="#fff" d="M894 456.01L905.85 435.1L882.15 435.1z"/><path fill="#FF00FF" d="M831.4 468.1L848.4 438.1L814.4 438.1z"/><path fill="#fff" d="M831.4 462.01L843.25 441.1L819.55 441.1z"/><path fill="#FF00FF" d="M767.3 476.4L784.3 446.4L750.3 446.4z"/><path fill="#fff" d="M767.3 470.31L779.15 449.4L755.45 449.4z"/><path fill="#FF00FF" d="M698.7 485.3L715.7 455.3L681.7 455.3z"/><path fill="#fff" d="M698.7 479.21L710.55 458.3L686.85 458.3z"/><path fill="#FF00FF" d="M633.5 497.3L650.5 467.3L616.5 467.3z"/><path fill="#fff" d="M633.5 491.21L645.35 470.3L621.65 470.3z"/><path fill="#FF00FF" d="M568.7 515.4L585.7 485.4L551.7 485.4z"/><path fill="#fff" d="M568.7 509.31L580.55 488.4L556.85 488.4z"/><path fill="#FF00FF" d="M507.1 541.3L524.1 511.3L490.1 511.3z"/><path fill="#fff" d="M507.1 535.21L518.95 514.3L495.25 514.3z"/><path fill="#FF00FF" d="M498 544.9L515 514.9L481 514.9z"/><path fill="#fff" d="M498 538.81L509.85 517.9L486.15 517.9z"/></g>
<polyline fill="none" stroke="#008000" stroke-width="3.0" stroke-linejoin="round" points="369.5,1134 369.51,1125 369.52,1116 369.53,1107 369.54,1098 369.55,1089 369.56,1080 369.58,1071 369.59,1062 369.6,1053 369.61,1044 369.62,1035 369.63,1026 369.64,1017 369.65,1008 369.66,999 369.67,990 369.68,981 369.69,972 369.7,963 369.71,954 369.73,945 369.74,936 369.75,927 369.76,918 369.77,909 369.78,900 369.79,891 369.8,882 369.81,873 369.82,864 369.83,855 369.84,846 369.85,837 369.87,828 369.88,819 369.89,810 369.9,801 369.91,792 369.92,783 369.93,774 369.94,765 369.95,756 369.96,747 369.97,738 369.98,729 369.99,720 370,712 372,690 373,669 373.9,654 375,647 377,636 379,621 382,605 384,598 397,557.5 410.4,527.7 426,500.3 446,473.5 457,461.8 468,450 493.8,426.6 554.8,388.8 576.5,380 634.1,359.5 647.1,356.3 713.7,340.4 772.4,329.6 849.7,317.6 909.4,309.1 976,300.5 1042.2,292 1116.9,280.7 1177.6,271.6 1246.2,258.4 1317.4,243.3 1381,228.4 1445.2,210.4 1510.5,189.4 1517.5,187.5 1579.7,168.6 1647.3,149.7 1681,139.3 1704,127.8"/>
<g fill="#008000"><path d="M369.5 1116.45L387.3 1134L369.5 1151.55L351.7 1134z"/><path d="M369.51 1107.45L387.31 1125L369.51 1142.55L351.71 1125z"/><path d="M369.52 1098.45L387.32 1116L369.52 1133.55L351.72 1116z"/><path d="M369.53 1089.45L387.33 1107L369.53 1124.55L351.73 1107z"/><path d="M369.54 1080.45L387.34 1098L369.54 1115.55L351.74 1098z"/><path d="M369.55 1071.45L387.35 1089L369.55 1106.55L351.75 1089z"/><path d="M369.56 1062.45L387.36 1080L369.56 1097.55L351.76 1080z"/><path d="M369.58 1053.45L387.38 1071L369.58 1088.55L351.78 1071z"/><path d="M369.59 1044.45L387.39 1062L369.59 1079.55L351.79 1062z"/><path d="M369.6 1035.45L387.4 1053L369.6 1070.55L351.8 1053z"/><path d="M369.61 1026.45L387.41 1044L369.61 1061.55L351.81 1044z"/><path d="M369.62 1017.45L387.42 1035L369.62 1052.55L351.82 1035z"/><path d="M369.63 1008.45L387.43 1026L369.63 1043.55L351.83 1026z"/><path d="M369.64 999.45L387.44 1017L369.64 1034.55L351.84 1017z"/><path d="M369.65 990.45L387.45 1008L369.65 1025.55L351.85 1008z"/><path d="M369.66 981.45L387.46 999L369.66 1016.55L351.86 999z"/><path d="M369.67 972.45L387.47 990L369.67 1007.55L351.87 990z"/><path d="M369.68 963.45L387.48 981L369.68 998.55L351.88 981z"/><path d="M369.69 954.45L387.49 972L369.69 989.55L351.89 972z"/><path d="M369.7 945.45L387.5 963L369.7 980.55L351.9 963z"/><path d="M369.71 936.45L387.51 954L369.71 971.55L351.91 954z"/><path d="M369.73 927.45L387.53 945L369.73 962.55L351.93 945z"/><path d="M369.74 918.45L387.54 936L369.74 953.55L351.94 936z"/><path d="M369.75 909.45L387.55 927L369.75 944.55L351.95 927z"/><path d="M369.76 900.45L387.56 918L369.76 935.55L351.96 918z"/><path d="M369.77 891.45L387.57 909L369.77 926.55L351.97 909z"/><path d="M369.78 882.45L387.58 900L369.78 917.55L351.98 900z"/><path d="M369.79 873.45L387.59 891L369.79 908.55L351.99 891z"/><path d="M369.8 864.45L387.6 882L369.8 899.55L352 882z"/><path d="M369.81 855.45L387.61 873L369.81 890.55L352.01 873z"/><path d="M369.82 846.45L387.62 864L369.82 881.55L352.02 864z"/><path d="M369.83 837.45L387.63 855L369.83 872.55L352.03 855z"/><path d="M369.84 828.45L387.64 846L369.84 863.55L352.04 846z"/><path d="M369.85 819.45L387.65 837L369.85 854.55L352.05 837z"/><path d="M369.87 810.45L387.67 828L369.87 845.55L352.07 828z"/><path d="M369.88 801.45L387.68 819L369.88 836.55L352.08 819z"/><path d="M369.89 792.45L387.69 810L369.89 827.55L352.09 810z"/><path d="M369.9 783.45L387.7 801L369.9 818.55L352.1 801z"/><path d="M369.91 774.45L387.71 792L369.91 809.55L352.11 792z"/><path d="M369.92 765.45L387.72 783L369.92 800.55L352.12 783z"/><path d="M369.93 756.45L387.73 774L369.93 791.55L352.13 774z"/><path d="M369.94 747.45L387.74 765L369.94 782.55L352.14 765z"/><path d="M369.95 738.45L387.75 756L369.95 773.55L352.15 756z"/><path d="M369.96 729.45L387.76 747L369.96 764.55L352.16 747z"/><path d="M369.97 720.45L387.77 738L369.97 755.55L352.17 738z"/><path d="M369.98 711.45L387.78 729L369.98 746.55L352.18 729z"/><path d="M369.99 702.45L387.79 720L369.99 737.55L352.19 720z"/><path d="M370 694.45L387.8 712L370 729.55L352.2 712z"/><path d="M372 672.45L389.8 690L372 707.55L354.2 690z"/><path d="M373 651.45L390.8 669L373 686.55L355.2 669z"/><path d="M373.9 636.45L391.7 654L373.9 671.55L356.1 654z"/><path d="M375 629.45L392.8 647L375 664.55L357.2 647z"/><path d="M377 618.45L394.8 636L377 653.55L359.2 636z"/><path d="M379 603.45L396.8 621L379 638.55L361.2 621z"/><path d="M382 587.45L399.8 605L382 622.55L364.2 605z"/><path d="M384 580.45L401.8 598L384 615.55L366.2 598z"/><path d="M397 539.95L414.8 557.5L397 575.05L379.2 557.5z"/><path d="M410.4 510.15L428.2 527.7L410.4 545.25L392.6 527.7z"/><path d="M426 482.75L443.8 500.3L426 517.85L408.2 500.3z"/><path d="M446 455.95L463.8 473.5L446 491.05L428.2 473.5z"/><path d="M457 444.25L474.8 461.8L457 479.35L439.2 461.8z"/><path d="M468 432.45L485.8 450L468 467.55L450.2 450z"/><path d="M493.8 409.05L511.6 426.6L493.8 444.15L476 426.6z"/><path d="M554.8 371.25L572.6 388.8L554.8 406.35L537 388.8z"/><path d="M576.5 362.45L594.3 380L576.5 397.55L558.7 380z"/><path d="M634.1 341.95L651.9 359.5L634.1 377.05L616.3 359.5z"/><path d="M647.1 338.75L664.9 356.3L647.1 373.85L629.3 356.3z"/><path d="M713.7 322.85L731.5 340.4L713.7 357.95L695.9 340.4z"/><path d="M772.4 312.05L790.2 329.6L772.4 347.15L754.6 329.6z"/><path d="M849.7 300.05L867.5 317.6L849.7 335.15L831.9 317.6z"/><path d="M909.4 291.55L927.2 309.1L909.4 326.65L891.6 309.1z"/><path d="M976 282.95L993.8 300.5L976 318.05L958.2 300.5z"/><path d="M1042.2 274.45L1060 292L1042.2 309.55L1024.4 292z"/><path d="M1116.9 263.15L1134.7 280.7L1116.9 298.25L1099.1 280.7z"/><path d="M1177.6 254.05L1195.4 271.6L1177.6 289.15L1159.8 271.6z"/><path d="M1246.2 240.85L1264 258.4L1246.2 275.95L1228.4 258.4z"/><path d="M1317.4 225.75L1335.2 243.3L1317.4 260.85L1299.6 243.3z"/><path d="M1381 210.85L1398.8 228.4L1381 245.95L1363.2 228.4z"/><path d="M1445.2 192.85L1463 210.4L1445.2 227.95L1427.4 210.4z"/><path d="M1510.5 171.85L1528.3 189.4L1510.5 206.95L1492.7 189.4z"/><path d="M1517.5 169.95L1535.3 187.5L1517.5 205.05L1499.7 187.5z"/><path d="M1579.7 151.05L1597.5 168.6L1579.7 186.15L1561.9 168.6z"/><path d="M1647.3 132.15L1665.1 149.7L1647.3 167.25L1629.5 149.7z"/><path d="M1681 121.75L1698.8 139.3L1681 156.85L1663.2 139.3z"/><path d="M1704 110.25L1721.8 127.8L1704 145.35L1686.2 127.8z"/></g>
<polyline fill="none" stroke="#008000" stroke-width="3.0" stroke-linejoin="round" points="1655.7,142.1 1617.5,147.3 1556.2,154.2 1496.6,163.6 1433.5,175.4 1374.1,191.2 1309.2,209.1 1230.7,229.8 1171.2,244.3 1106.5,258.4 1032.7,277.5 969.1,300.3 901.4,312.5 826.2,322.8 767.8,333.6 696.8,346.7 637.1,360.8 570.5,384.3 567.5,386.3 507.6,419.1 504,421"/>
<g fill="#008000"><path fill="#008000" d="M1655.7 124.55L1673.5 142.1L1655.7 159.65L1637.9 142.1z"/><path fill="#fff" d="M1655.7 128.34L1669.65 142.1L1655.7 155.86L1641.75 142.1z"/><path fill="#008000" d="M1617.5 129.75L1635.3 147.3L1617.5 164.85L1599.7 147.3z"/><path fill="#fff" d="M1617.5 133.54L1631.45 147.3L1617.5 161.06L1603.55 147.3z"/><path fill="#008000" d="M1556.2 136.65L1574 154.2L1556.2 171.75L1538.4 154.2z"/><path fill="#fff" d="M1556.2 140.44L1570.15 154.2L1556.2 167.96L1542.25 154.2z"/><path fill="#008000" d="M1496.6 146.05L1514.4 163.6L1496.6 181.15L1478.8 163.6z"/><path fill="#fff" d="M1496.6 149.84L1510.55 163.6L1496.6 177.36L1482.65 163.6z"/><path fill="#008000" d="M1433.5 157.85L1451.3 175.4L1433.5 192.95L1415.7 175.4z"/><path fill="#fff" d="M1433.5 161.64L1447.45 175.4L1433.5 189.16L1419.55 175.4z"/><path fill="#008000" d="M1374.1 173.65L1391.9 191.2L1374.1 208.75L1356.3 191.2z"/><path fill="#fff" d="M1374.1 177.44L1388.05 191.2L1374.1 204.96L1360.15 191.2z"/><path fill="#008000" d="M1309.2 191.55L1327 209.1L1309.2 226.65L1291.4 209.1z"/><path fill="#fff" d="M1309.2 195.34L1323.15 209.1L1309.2 222.86L1295.25 209.1z"/><path fill="#008000" d="M1230.7 212.25L1248.5 229.8L1230.7 247.35L1212.9 229.8z"/><path fill="#fff" d="M1230.7 216.04L1244.65 229.8L1230.7 243.56L1216.75 229.8z"/><path fill="#008000" d="M1171.2 226.75L1189 244.3L1171.2 261.85L1153.4 244.3z"/><path fill="#fff" d="M1171.2 230.54L1185.15 244.3L1171.2 258.06L1157.25 244.3z"/><path fill="#008000" d="M1106.5 240.85L1124.3 258.4L1106.5 275.95L1088.7 258.4z"/><path fill="#fff" d="M1106.5 244.64L1120.45 258.4L1106.5 272.16L1092.55 258.4z"/><path fill="#008000" d="M1032.7 259.95L1050.5 277.5L1032.7 295.05L1014.9 277.5z"/><path fill="#fff" d="M1032.7 263.74L1046.65 277.5L1032.7 291.26L1018.75 277.5z"/><path fill="#008000" d="M969.1 282.75L986.9 300.3L969.1 317.85L951.3 300.3z"/><path fill="#fff" d="M969.1 286.54L983.05 300.3L969.1 314.06L955.15 300.3z"/><path fill="#008000" d="M901.4 294.95L919.2 312.5L901.4 330.05L883.6 312.5z"/><path fill="#fff" d="M901.4 298.74L915.35 312.5L901.4 326.26L887.45 312.5z"/><path fill="#008000" d="M826.2 305.25L844 322.8L826.2 340.35L808.4 322.8z"/><path fill="#fff" d="M826.2 309.04L840.15 322.8L826.2 336.56L812.25 322.8z"/><path fill="#008000" d="M767.8 316.05L785.6 333.6L767.8 351.15L750 333.6z"/><path fill="#fff" d="M767.8 319.84L781.75 333.6L767.8 347.36L753.85 333.6z"/><path fill="#008000" d="M696.8 329.15L714.6 346.7L696.8 364.25L679 346.7z"/><path fill="#fff" d="M696.8 332.94L710.75 346.7L696.8 360.46L682.85 346.7z"/><path fill="#008000" d="M637.1 343.25L654.9 360.8L637.1 378.35L619.3 360.8z"/><path fill="#fff" d="M637.1 347.04L651.05 360.8L637.1 374.56L623.15 360.8z"/><path fill="#008000" d="M570.5 366.75L588.3 384.3L570.5 401.85L552.7 384.3z"/><path fill="#fff" d="M570.5 370.54L584.45 384.3L570.5 398.06L556.55 384.3z"/><path fill="#008000" d="M567.5 368.75L585.3 386.3L567.5 403.85L549.7 386.3z"/><path fill="#fff" d="M567.5 372.54L581.45 386.3L567.5 400.06L553.55 386.3z"/><path fill="#008000" d="M507.6 401.55L525.4 419.1L507.6 436.65L489.8 419.1z"/><path fill="#fff" d="M507.6 405.34L521.55 419.1L507.6 432.86L493.65 419.1z"/><path fill="#008000" d="M504 403.45L521.8 421L504 438.55L486.2 421z"/><path fill="#fff" d="M504 407.24L517.95 421L504 434.76L490.05 421z"/></g>
</g>
<g fill="#000">
<text transform="translate(266.9 1150.5) scale(0.96 1)" text-anchor="end" font-size="62">0</text>
<text transform="translate(266.9 968.98) scale(0.96 1)" text-anchor="end" font-size="62">100</text>
<text transform="translate(266.9 787.46) scale(0.96 1)" text-anchor="end" font-size="62">200</text>
<text transform="translate(266.9 605.94) scale(0.96 1)" text-anchor="end" font-size="62">300</text>
<text transform="translate(266.9 424.42) scale(0.96 1)" text-anchor="end" font-size="62">400</text>
<text transform="translate(266.9 242.9) scale(0.96 1)" text-anchor="end" font-size="62">500</text>
<text transform="translate(266.9 61.38) scale(0.96 1)" text-anchor="end" font-size="62">600</text>
<text transform="translate(369 1213.9) scale(0.96 1)" text-anchor="middle" font-size="62">0.0</text>
<text transform="translate(637.9 1213.9) scale(0.96 1)" text-anchor="middle" font-size="62">0.2</text>
<text transform="translate(906.8 1213.9) scale(0.96 1)" text-anchor="middle" font-size="62">0.4</text>
<text transform="translate(1175.7 1213.9) scale(0.96 1)" text-anchor="middle" font-size="62">0.6</text>
<text transform="translate(1444.6 1213.9) scale(0.96 1)" text-anchor="middle" font-size="62">0.8</text>
<text transform="translate(1713.5 1213.9) scale(0.96 1)" text-anchor="middle" font-size="62">1.0</text>
<text transform="translate(676.6 1322) scale(0.97 1)" font-size="80">Relative pressure (P/P<tspan font-size="47" dy="30">0</tspan><tspan dy="-30">)</tspan></text>
<text transform="translate(101.3 1081.3) rotate(-90) scale(0.9975 1)" font-size="80">Volume adsorbed (cm<tspan font-size="47" dy="-44">3</tspan><tspan dy="44">/g, STP)</tspan></text>
</g>
<rect x="1338.0" y="725.0" width="427.5" height="354.29999999999995" fill="#000"/>
<rect x="1322.5" y="709.5" width="424.5" height="351.29999999999995" fill="#fff" stroke="#000" stroke-width="3"/>
<line x1="1350.5" y1="762" x2="1472.8" y2="762" stroke="#000000" stroke-width="3"/>
<path fill="#000000" d="M1399 749.5L1424 749.5L1424 774.5L1399 774.5z"/>
<text transform="translate(1484 780.5) scale(0.967 1)" font-size="54">As-received</text>
<line x1="1350.5" y1="829.2" x2="1472.8" y2="829.2" stroke="#FF0000" stroke-width="3"/>
<circle cx="1411.5" cy="829.2" r="13.75" fill="#FF0000"/>
<text transform="translate(1484 847.7) scale(0.967 1)" font-size="54">PE-H-9-1</text>
<line x1="1350.5" y1="896.5" x2="1472.8" y2="896.5" stroke="#0000FF" stroke-width="3"/>
<path fill="#0000FF" d="M1411.5 876.5L1428.5 906.5L1394.5 906.5z"/>
<text transform="translate(1484 915) scale(0.967 1)" font-size="54">PE-H-9-2</text>
<line x1="1350.5" y1="963.3" x2="1472.8" y2="963.3" stroke="#FF00FF" stroke-width="3"/>
<path fill="#FF00FF" d="M1411.5 983.3L1428.5 953.3L1394.5 953.3z"/>
<text transform="translate(1484 981.8) scale(0.967 1)" font-size="54">PE-H-9-3</text>
<line x1="1350.5" y1="1029.6" x2="1472.8" y2="1029.6" stroke="#008000" stroke-width="3"/>
<path fill="#008000" d="M1411.5 1012.05L1429.3 1029.6L1411.5 1047.15L1393.7 1029.6z"/>
<text transform="translate(1484 1048.1) scale(0.967 1)" font-size="54">PE-H-9-4</text>
</svg>
</body></html>
